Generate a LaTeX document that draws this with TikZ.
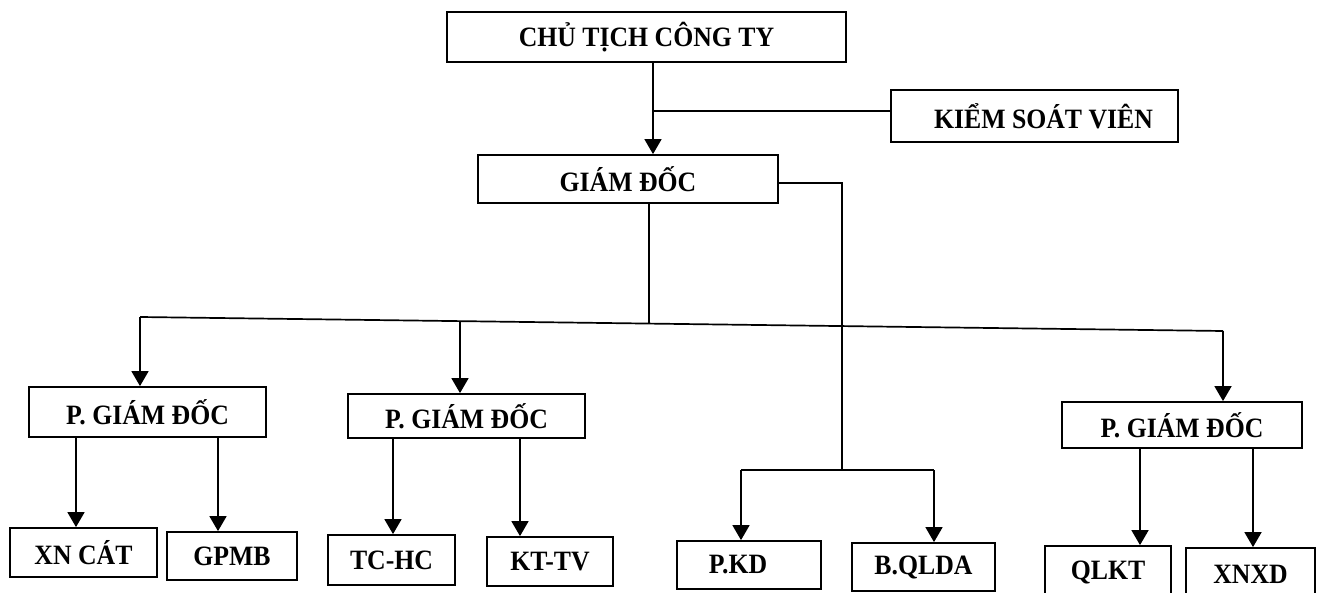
\documentclass[tikz,border=0pt]{standalone}
\usepackage{fontspec}
\setmainfont[FakeStretch=0.92]{Liberation Serif}
\usetikzlibrary{arrows.meta,calc}
\tikzset{
  box/.style={draw=black, line width=1.8pt, fill=white, inner sep=0pt,
    font=\fontsize{28}{32}\selectfont\bfseries},
  conn/.style={line width=1.7pt, draw=black},
  arr/.style={conn, -{Triangle[width=17pt,length=15pt]}}
}
\begin{document}
\begin{tikzpicture}[x=1pt,y=-1pt]
\useasboundingbox (0,0) rectangle (1322,593);
\fill[white] (0,0) rectangle (1322,593);
% boxes
\node[box, minimum width=399pt, minimum height=50pt] (chu) at (646.5,37) {\raisebox{-2pt}{CHỦ TỊCH CÔNG TY}};
\node[box, minimum width=287pt, minimum height=52pt] (ksv) at (1034.5,116) {\hspace*{18pt}KIỂM SOÁT VIÊN};
\node[box, minimum width=300pt, minimum height=48pt] (gd) at (628,179) {GIÁM ĐỐC};
\node[box, minimum width=237pt, minimum height=50pt] (pgd1) at (147.5,412) {P. GIÁM ĐỐC};
\node[box, minimum width=237pt, minimum height=44pt] (pgd2) at (466.5,416) {P. GIÁM ĐỐC};
\node[box, minimum width=240pt, minimum height=46pt] (pgd3) at (1182,425) {P. GIÁM ĐỐC};
\node[box, minimum width=147pt, minimum height=49pt] (xncat) at (83.5,552.5) {XN CÁT};
\node[box, minimum width=130pt, minimum height=48pt] (gpmb) at (232,556) {GPMB};
\node[box, minimum width=127pt, minimum height=50pt] (tchc) at (391.5,560) {TC-HC};
\node[box, minimum width=126pt, minimum height=49pt] (kttv) at (550,561.5) {KT-TV};
\node[box, minimum width=144pt, minimum height=48pt] (pkd) at (749,565) {P.KD\hspace*{22pt}};
\node[box, minimum width=143pt, minimum height=48pt] (bqlda) at (923.5,567) {B.QLDA};
\node[box, minimum width=126pt, minimum height=52pt] (qlkt) at (1108,572) {QLKT};
\node[box, minimum width=129pt, minimum height=52pt] (xnxd) at (1250.5,574) {XNXD};
% junction coordinates
\coordinate (j1) at (653,111);
\coordinate (busL) at (140,317);
\coordinate (busR) at (1223,331);
\coordinate (busM) at (649,324);
\coordinate (bus2) at (460,321.5);
\coordinate (rk) at (842,183);
\coordinate (kd) at (842,470);
\coordinate (kdL) at (741,470);
\coordinate (kdR) at (934,470);
% connectors
\draw[arr] (chu.south -| j1) -- (gd.north -| j1);
\draw[conn] (j1) -- (ksv.west |- j1);
\draw[conn] (gd.south -| busM) -- (busM);
\draw[conn] (busL) -- (busR);
\draw[arr] (busL) -- (pgd1.north -| busL);
\draw[arr] (bus2) -- (pgd2.north -| bus2);
\draw[arr] (busR) -- (pgd3.north -| busR);
\draw[conn] (gd.east |- rk) -- (rk) -- (kd);
\draw[conn] (kdL) -- (kdR);
\draw[arr] (kdL) -- (pkd.north -| kdL);
\draw[arr] (kdR) -- (bqlda.north -| kdR);
\draw[arr] (pgd1.south -| 76,0) -- (xncat.north -| 76,0);
\draw[arr] (pgd1.south -| 218,0) -- (gpmb.north -| 218,0);
\draw[arr] (pgd2.south -| 393,0) -- (tchc.north -| 393,0);
\draw[arr] (pgd2.south -| 520,0) -- (kttv.north -| 520,0);
\draw[arr] (pgd3.south -| 1140,0) -- (qlkt.north -| 1140,0);
\draw[arr] (pgd3.south -| 1253,0) -- (xnxd.north -| 1253,0);
\end{tikzpicture}
\end{document}
